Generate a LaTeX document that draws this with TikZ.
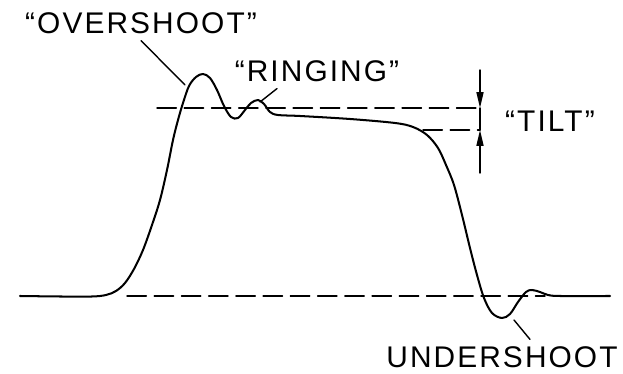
\documentclass[tikz,border=0pt]{standalone}
\usepackage{fontspec}
\newfontfamily\pulsefont{Liberation Sans}[LetterSpace=7]
\usetikzlibrary{arrows.meta}

\begin{document}
\begin{tikzpicture}[
			x=0.02cm, y=-0.02cm,
			every node/.style={font=\pulsefont\fontsize{17}{20}\selectfont, inner sep=0pt, outer sep=4pt},
			line cap=round,
			line join=round,
			trace/.style={line width=1.15pt},
			guide/.style={line width=0.8pt, dash pattern=on 11pt off 4.5pt},
			leader/.style={line width=0.8pt},
			tiltarrow/.style={line width=0.8pt, -{Triangle[length=9pt,width=4pt]}}
			]
			\useasboundingbox (0,0) rectangle (623,374);
			
			% reference levels
			\coordinate (tilttop) at (480,70);
			\coordinate (tiltA) at (480,108);
			\coordinate (tiltB) at (480,130);
			\coordinate (tiltbot) at (480,173);
			\draw[guide] (157,108) -- (tiltA);
			\draw[guide] (423,130) -- (tiltB);
			\draw[guide] (127,296) -- (545,296);
			
			% the pulse
			\draw[trace] plot[smooth, tension=0.55] coordinates {
				(20,296) (60,296.5) (92,296.5) (106,295) (116,291) (125,283) (134,269) (143,250)
				(152,225) (160,200) (167,170) (173,140) (178,120) (183,103) (189,86)
				(196,77) (203,74) (210,78) (217,90) (224,106) (231,117) (238,118)
				(245,110) (251,103) (258,100) (264,104) (270,112) (278,115) (300,116)
				(350,119) (395,123) (413,127) (427,135) (438,148) (446,165) (454,185)
				(462,215) (470,248) (477,275) (484,298) (492,313) (502,318) (510,314)
				(518,302) (526,292) (532,290) (540,292) (548,295) (560,296) (610,296)};
			
			% tilt arrows
			\draw[tiltarrow] (tilttop) -- (tiltA);
			\draw[tiltarrow] (tiltbot) -- (tiltB);
			\draw[leader] (tiltA) -- (tiltB);
			
			% labels
			\node (overshoot) at (141,23) {“OVERSHOOT”};
			\node (ringing) at (317,71) {“RINGING”};
			\node (tilt) at (550,121) {“TILT”};
			\node (undershoot) at (502,357) {UNDERSHOOT};
			
			\coordinate (ospeak) at (185,85);
			\coordinate (rgpeak) at (260,102);
			\coordinate (ustrough) at (514,320);
			\draw[leader] (overshoot.south) -- (ospeak);
			\draw[leader] (ringing.south -| 277,0) -- (rgpeak);
			\draw[leader] (undershoot.north -| 530,0) -- (ustrough);
		\end{tikzpicture}
\end{document}
